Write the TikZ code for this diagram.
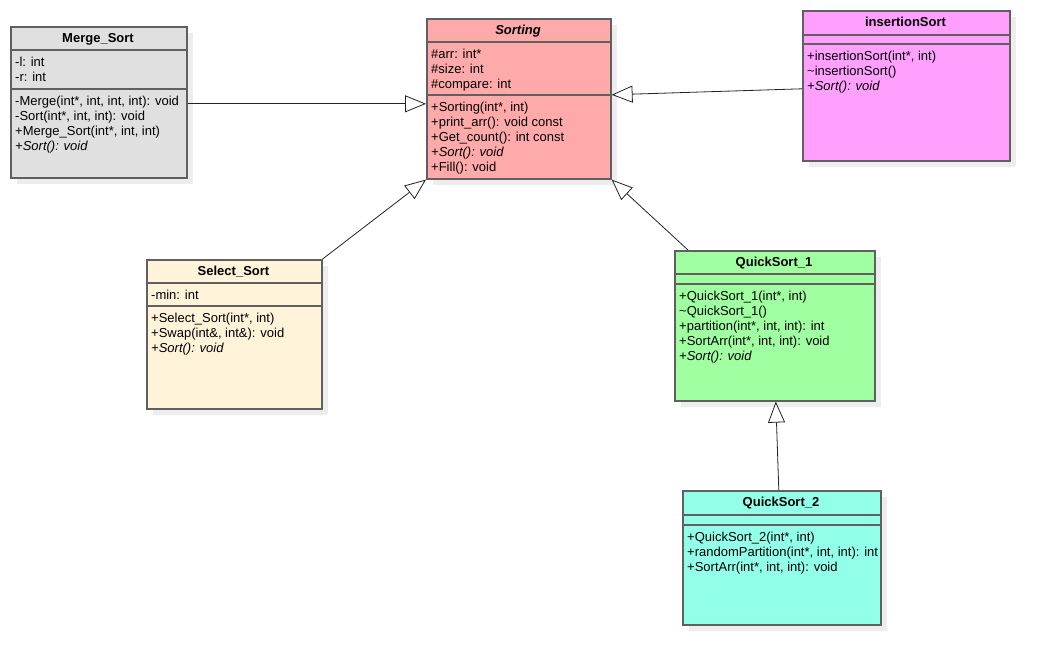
\documentclass[tikz,border=0pt]{standalone}
\usepackage{fontspec}
\setmainfont{Liberation Sans}
\usetikzlibrary{arrows.meta,shadows}
\definecolor{mergefill}{HTML}{E0E0E0}
\definecolor{sortfill}{HTML}{FFAAAA}
\definecolor{insfill}{HTML}{FFA0FF}
\definecolor{selfill}{HTML}{FFF4DA}
\definecolor{qonefill}{HTML}{A0FFA0}
\definecolor{qtwofill}{HTML}{92FFE9}
\definecolor{boxline}{HTML}{606060}
\definecolor{linkline}{HTML}{222222}
\begin{document}
\begin{tikzpicture}[x=1pt,y=-1pt,
  classbox/.style={draw=boxline, line width=1.6pt, anchor=north west, inner sep=0,
    drop shadow={shadow xshift=6pt, shadow yshift=-6pt, fill=black!7, opacity=1}},
  title/.style={font=\fontsize{13}{15}\selectfont\bfseries, anchor=base, inner sep=0},
  members/.style={font=\fontsize{13}{15}\selectfont, anchor=north west, align=left, inner sep=0},
  inherit/.style={draw=linkline, line width=0.8pt, -{Triangle[open, length=21pt, width=17pt, fill=white]}}]
\useasboundingbox (0,0) rectangle (1049,665);
% Merge_Sort
\node[classbox, fill=mergefill, minimum width=176pt, minimum height=151pt] (merge) at (10,26){};
\draw[boxline, line width=1.6pt] (10,50) -- (186,50) (10,89) -- (186,89);
\node[title] (mergetitle) at (98,42.7){Merge\_Sort};
\node[members] (mergeattr) at (15,55.5){\strut-l: int\\-r: int};
\node[members] (mergeops) at (15,94.5){\strut-Merge(int*, int, int, int): void\\-Sort(int*, int, int): void\\+Merge\_Sort(int*, int, int)\\\textit{+Sort(): void}};
% Sorting
\node[classbox, fill=sortfill, minimum width=184pt, minimum height=160pt] (sorting) at (426,18){};
\draw[boxline, line width=1.6pt] (426,42) -- (610,42) (426,95) -- (610,95);
\node[title] (sortingtitle) at (518,34.7){\itshape Sorting};
\node[members] (sortingattr) at (431,47.5){\strut\#arr: int*\\\#size: int\\\#compare: int};
\node[members] (sortingops) at (431,100.5){\strut+Sorting(int*, int)\\+print\_arr(): void const\\+Get\_count(): int const\\\textit{+Sort(): void}\\+Fill(): void};
% insertionSort
\node[classbox, fill=insfill, minimum width=207pt, minimum height=150pt] (insertion) at (802,10){};
\draw[boxline, line width=1.6pt] (802,35) -- (1009,35) (802,44) -- (1009,44);
\node[title] (insertiontitle) at (905.5,26.7){insertionSort};
\node[members] (insertionops) at (807,49.5){\strut+insertionSort(int*, int)\\\textasciitilde insertionSort()\\\textit{+Sort(): void}};
% Select_Sort
\node[classbox, fill=selfill, minimum width=175pt, minimum height=149pt] (select) at (146,259){};
\draw[boxline, line width=1.6pt] (146,283) -- (321,283) (146,306) -- (321,306);
\node[title] (selecttitle) at (233.5,275.2){Select\_Sort};
\node[members] (selectattr) at (151,288.5){\strut-min: int};
\node[members] (selectops) at (151,311.5){\strut+Select\_Sort(int*, int)\\+Swap(int\&, int\&): void\\\textit{+Sort(): void}};
% QuickSort_1
\node[classbox, fill=qonefill, minimum width=200pt, minimum height=150pt] (quickone) at (674,250){};
\draw[boxline, line width=1.6pt] (674,274) -- (874,274) (674,284) -- (874,284);
\node[title] (quickonetitle) at (774,266.7){QuickSort\_1};
\node[members] (quickoneops) at (679,289.5){\strut+QuickSort\_1(int*, int)\\\textasciitilde QuickSort\_1()\\+partition(int*, int, int): int\\+SortArr(int*, int, int): void\\\textit{+Sort(): void}};
% QuickSort_2
\node[classbox, fill=qtwofill, minimum width=198pt, minimum height=134pt] (quicktwo) at (682,490){};
\draw[boxline, line width=1.6pt] (682,515) -- (880,515) (682,525) -- (880,525);
\node[title] (quicktwotitle) at (781,506.7){QuickSort\_2};
\node[members] (quicktwoops) at (687,530.5){\strut+QuickSort\_2(int*, int)\\+randomPartition(int*, int, int): int\\+SortArr(int*, int, int): void};
% generalizations
\draw[inherit] ([yshift=-1.5pt]merge.east) -- ([yshift=-1.5pt]merge.east -| sorting.west);
\draw[inherit] ([yshift=-3pt]insertion.west) -- ([yshift=4pt]sorting.east);
\draw[inherit] (select.north east) -- (sorting.south west);
\draw[inherit] ([xshift=14pt]quickone.north west) -- (sorting.south east);
\draw[inherit] ([xshift=-3pt]quicktwo.north) -- ([xshift=1pt]quickone.south);
\end{tikzpicture}
\end{document}
